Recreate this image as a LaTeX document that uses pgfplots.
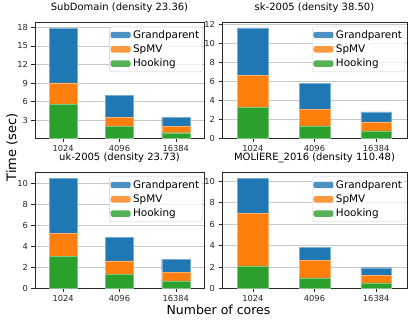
\documentclass[border=0pt]{standalone}
\usepackage{pgfplots}
\pgfplotsset{compat=1.18}
\usepackage{fontspec}
\setmainfont{DejaVu Sans}
\definecolor{cG}{HTML}{1F77B4}
\definecolor{cS}{HTML}{FF7F0E}
\definecolor{cH}{HTML}{2CA02C}
\pgfplotsset{
  mylegend/.style={/pgfplots/legend image code/.code={\fill[##1, draw=none] (0pt,-3.2pt) rectangle (20pt,3.2pt);}},
  panel/.style={
    scale only axis, height=116pt, anchor=south west,
    ybar stacked, bar width=0.5,
    xmin=-0.5, xmax=2.5, ymin=0,
    xtick={0,1,2}, xticklabels={1024,4096,16384},
    tick align=outside, xtick pos=bottom, ytick pos=left,
    major tick length=3.5pt,
    ymajorgrids, grid style={line width=0.6pt, color=black!22},
    axis line style={line width=0.6pt, black!85},
    tick style={black!85, line width=0.6pt},
    tick label style={font=\fontsize{8.3}{9}\selectfont, text=black!85},
    /pgf/number format/assume math mode=true,
    title style={font=\fontsize{10}{12}\selectfont},
    legend style={at={(0.99,0.965)}, anchor=north east,
      font=\fontsize{10.4}{12}\selectfont, draw=black!20, rounded corners=2pt,
      fill=white, fill opacity=0.8, text opacity=1,
      inner xsep=1pt, inner ysep=1.5pt, row sep=1pt,
      /tikz/every odd column/.append style={column sep=0.5pt}},
    legend cell align=left,
    reverse legend,
    every axis plot post/.append style={mylegend},
  },
}
\begin{document}
\begin{tikzpicture}[x=1pt,y=1pt]
\path (0,0) rectangle (415,316);
% SubDomain
\begin{axis}[panel, at={(35pt,183pt)}, width=169pt, ymax=18.8, ytick={3,6,...,18},
  title={SubDomain (density 23.36)}]
\addplot[fill=cH, draw=cH!60!white] coordinates {(0,5.6) (1,1.97) (2,0.94)};
\addplot[fill=cS, draw=cS!60!white] coordinates {(0,3.42) (1,1.52) (2,0.98)};
\addplot[fill=cG, draw=cG!60!white] coordinates {(0,8.87) (1,3.46) (2,1.46)};
\legend{Hooking,SpMV,Grandparent}
\end{axis}
% sk-2005
\begin{axis}[panel, at={(222pt,183pt)}, width=185pt, ymax=12.22, ytick={0,2,...,12},
  title={sk-2005 (density 38.50)}]
\addplot[fill=cH, draw=cH!60!white] coordinates {(0,3.28) (1,1.34) (2,0.81)};
\addplot[fill=cS, draw=cS!60!white] coordinates {(0,3.36) (1,1.76) (2,0.95)};
\addplot[fill=cG, draw=cG!60!white] coordinates {(0,5.01) (1,2.69) (2,1.06)};
\legend{Hooking,SpMV,Grandparent}
\end{axis}
% uk-2005
\begin{axis}[panel, at={(35pt,33pt)}, width=169pt, ymax=11.03, ytick={0,2,...,10},
  title={uk-2005 (density 23.73)}]
\addplot[fill=cH, draw=cH!60!white] coordinates {(0,3.06) (1,1.34) (2,0.73)};
\addplot[fill=cS, draw=cS!60!white] coordinates {(0,2.19) (1,1.30) (2,0.83)};
\addplot[fill=cG, draw=cG!60!white] coordinates {(0,5.25) (1,2.26) (2,1.21)};
\legend{Hooking,SpMV,Grandparent}
\end{axis}
% MOLIERE
\begin{axis}[panel, at={(222pt,33pt)}, width=185pt, ymax=10.82, ytick={0,2,...,10},
  title={MOLIERE\_2016 (density 110.48)}]
\addplot[fill=cH, draw=cH!60!white] coordinates {(0,2.12) (1,1.0) (2,0.53)};
\addplot[fill=cS, draw=cS!60!white] coordinates {(0,4.88) (1,1.6) (2,0.69)};
\addplot[fill=cG, draw=cG!60!white] coordinates {(0,3.3) (1,1.21) (2,0.72)};
\legend{Hooking,SpMV,Grandparent}
\end{axis}
\node[rotate=90, font=\fontsize{13}{15}\selectfont] at (12,174) {Time (sec)};
\node[font=\fontsize{12.5}{15}\selectfont] at (218.5,12) {Number of cores};
\end{tikzpicture}
\end{document}
